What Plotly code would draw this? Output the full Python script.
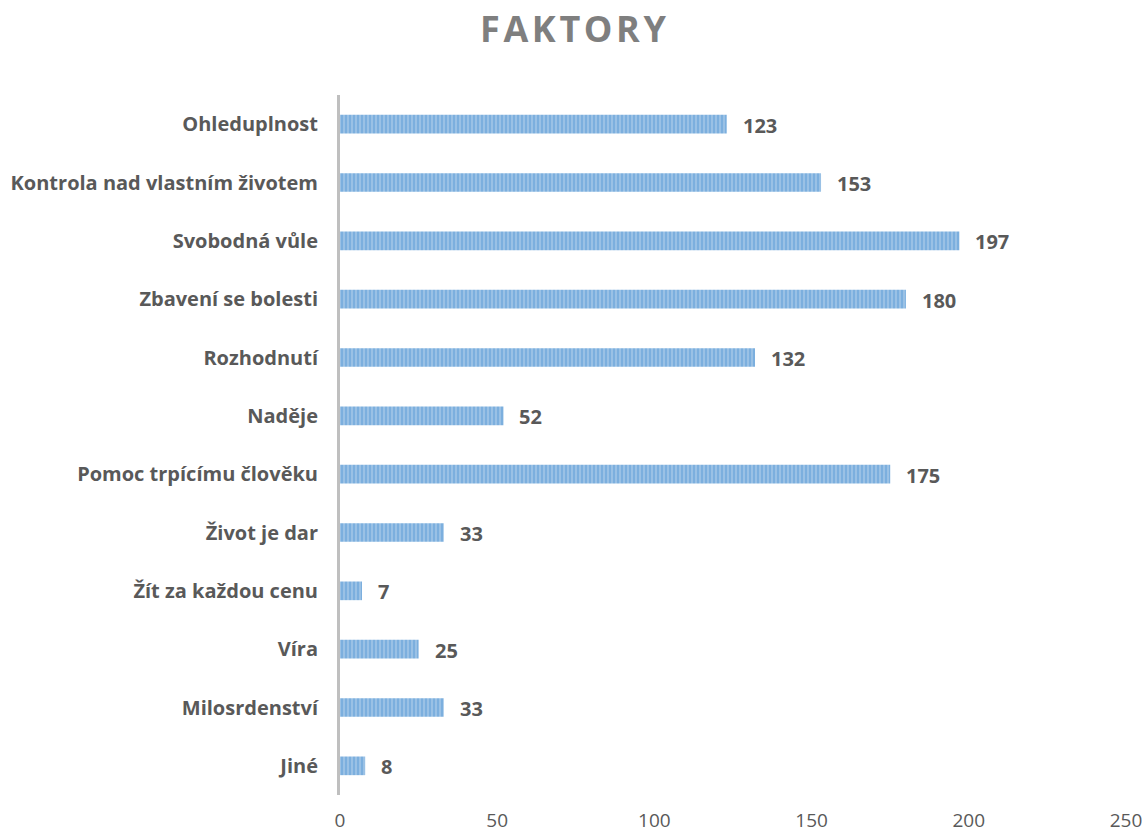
import plotly.graph_objects as go

categories = ["Ohleduplnost", "Kontrola nad vlastním životem", "Svobodná vůle",
              "Zbavení se bolesti", "Rozhodnutí", "Naděje", "Pomoc trpícímu člověku",
              "Život je dar", "Žít za každou cenu", "Víra", "Milosrdenství", "Jiné"]
values = [123, 153, 197, 180, 132, 52, 175, 33, 7, 25, 33, 8]
x_ticks = [0, 50, 100, 150, 200, 250]
title_text = "FAKTORY"

fig = go.Figure(go.Bar(
    y=categories, x=values, orientation="h", width=0.32,
    marker=dict(color="#9DC3E6", line=dict(width=0),
                pattern=dict(shape="|", fgcolor="#5B9BD5", size=4, solidity=0.55)),
))

for c, v in zip(categories, values):
    fig.add_annotation(x=v, y=c, text=f"<b>{v}</b>", showarrow=False,
                       xanchor="left", xshift=14, yshift=-1,
                       font=dict(family="Open Sans", size=20, color="#595959"))

spaced_title = "\u200a".join(title_text)

fig.update_layout(
    width=1146, height=834,
    margin=dict(l=340, r=20, t=95, b=39),
    paper_bgcolor="white", plot_bgcolor="white",
    showlegend=False,
    title=dict(text=f"<b>{spaced_title}</b>", x=0.5, xref="container", y=0.965, yanchor="middle",
               font=dict(family="Open Sans", size=36, color="#7F7F7F")),
    xaxis=dict(range=[0, 250], tickvals=x_ticks, showgrid=False, zeroline=False,
               showline=False, ticks="", ticklabelstandoff=12, automargin=False,
               ticklabeloverflow="allow",
               tickfont=dict(family="Open Sans", size=19, color="#595959")),
    yaxis=dict(autorange="reversed", showgrid=False, zeroline=False, automargin=False,
               showline=True, linecolor="#BFBFBF", linewidth=3, ticks="",
               ticklabelstandoff=15,
               tickfont=dict(family="Open Sans", size=20, color="#595959", weight="bold")),
)

fig.write_html("out.html")
